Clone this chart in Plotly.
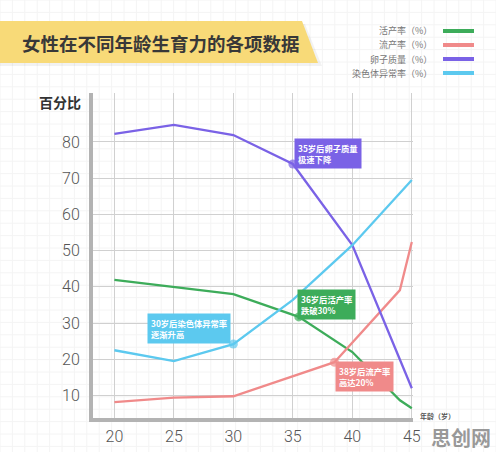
import plotly.graph_objects as go

# ---------------- data ----------------
ages_live = [20, 25, 30, 35.5, 40, 44, 45]
live_birth = [41.9, 39.9, 38.0, 31.7, 22.0, 8.7, 6.5]

ages_misc = [20, 25, 30, 38.5, 44, 45]
miscarriage = [8.2, 9.4, 9.8, 19.2, 39.1, 52.4]

ages_egg = [20, 25, 30, 35, 40, 45]
egg_quality = [82.2, 84.7, 81.9, 73.9, 51.5, 12.0]

ages_chrom = [20, 25, 30, 35, 40, 45]
chrom_abnormal = [22.5, 19.5, 24.2, 36.4, 51.5, 69.5]

series_names = ["活产率（%）", "流产率（%）", "卵子质量（%）", "染色体异常率（%）"]
highlight_ages = [35.5, 38.5, 35, 30]
callout_texts = ["<b>36岁后活产率<br>跌破30%</b>", "<b>38岁后流产率<br>高达20%</b>",
                 "<b>35岁后卵子质量<br>极速下降</b>", "<b>30岁后染色体异常率<br>逐渐升高</b>"]

x_ticks = [20, 25, 30, 35, 40, 45]
y_ticks = [10, 20, 30, 40, 50, 60, 70, 80]

title_text = "女性在不同年龄生育力的各项数据"
y_title = "百分比"
x_title = "年龄（岁）"
watermark = "思创网"

# ---------------- styles ----------------
colors = ["#3dac5a", "#f08a8a", "#7a62e6", "#5cc9ef"]
CJK = "Noto Sans CJK SC"
W_PX, H_PX = 496, 452
L, R, T, B = 93, 413, 93, 418
PW, PH = R - L, B - T


def px(x):
    return (x - L) / PW


def py(y):
    return (B - y) / PH


xs_all = [ages_live, ages_misc, ages_egg, ages_chrom]
ys_all = [live_birth, miscarriage, egg_quality, chrom_abnormal]

fig = go.Figure()
for name, xs, ys, col, ha in zip(series_names, xs_all, ys_all, colors, highlight_ages):
    sizes = [9 if a == ha else 0 for a in xs]
    fig.add_trace(go.Scatter(
        x=xs, y=ys, name=name, mode="lines+markers",
        line=dict(color=col, width=2.3),
        marker=dict(size=sizes, color=col, line=dict(width=0)),
        showlegend=False,
    ))

# callout boxes anchored at the highlighted points
callout_pos = [
    dict(xanchor="left", yanchor="bottom", xshift=-2, yshift=-3),   # live birth
    dict(xanchor="left", yanchor="top", xshift=1, yshift=1),        # miscarriage
    dict(xanchor="left", yanchor="bottom", xshift=1, yshift=-5),    # egg
    dict(xanchor="right", yanchor="bottom", xshift=-2, yshift=0),   # chromosome
]
annotations = []
for xs, ys, col, ha, txt, pos in zip(xs_all, ys_all, colors, highlight_ages, callout_texts, callout_pos):
    i = xs.index(ha)
    annotations.append(dict(
        x=xs[i], y=ys[i], xref="x", yref="y", text=txt, showarrow=False,
        align="left", bgcolor=col, borderpad=3,
        font=dict(family=CJK, size=8.3, color="white"), **pos))

# legend (text + swatch on the right)
leg_y = [31, 45, 59, 73]
shapes = []

# faint page grid
step = 12.4
gx = 0.0
while gx <= W_PX:
    shapes.append(dict(type="line", xref="paper", yref="paper", x0=px(gx), x1=px(gx),
                       y0=py(0), y1=py(H_PX), line=dict(color="#f4f4f4", width=1), layer="below"))
    gx += step
gy = 0.0
while gy <= H_PX:
    shapes.append(dict(type="line", xref="paper", yref="paper", x0=px(0), x1=px(W_PX),
                       y0=py(gy), y1=py(gy), line=dict(color="#f4f4f4", width=1), layer="below"))
    gy += step

for name, col, ly in zip(series_names, colors, leg_y):
    annotations.append(dict(x=px(434), y=py(ly), xref="paper", yref="paper", text=name,
                            showarrow=False, xanchor="right", yanchor="middle",
                            font=dict(family=CJK, size=9, color="#777")))
    shapes.append(dict(type="line", xref="paper", yref="paper", x0=px(443), x1=px(474),
                       y0=py(ly), y1=py(ly), line=dict(color=col, width=4)))

# title banner
shapes.append(dict(type="path", xref="paper", yref="paper",
                   path=f"M {px(0)},{py(24)} L {px(305)},{py(24)} L {px(322)},{py(66)} L {px(0)},{py(66)} Z",
                   fillcolor="rgba(0,0,0,0.05)", line=dict(width=0)))
shapes.append(dict(type="path", xref="paper", yref="paper",
                   path=f"M {px(0)},{py(21)} L {px(302)},{py(21)} L {px(318)},{py(63)} L {px(0)},{py(63)} Z",
                   fillcolor="#f8da78", line=dict(width=0)))

annotations.append(dict(x=px(20), y=py(43), xref="paper", yref="paper", text=f"<b>{title_text}</b>",
                        showarrow=False, xanchor="left", yanchor="middle",
                        font=dict(family=CJK, size=18.5, color="#383838")))
annotations.append(dict(x=px(83), y=py(102), xref="paper", yref="paper", text=f"<b>{y_title}</b>",
                        showarrow=False, xanchor="right", yanchor="middle",
                        font=dict(family=CJK, size=14, color="#333")))
annotations.append(dict(x=px(419), y=py(416), xref="paper", yref="paper", text=f"<b>{x_title}</b>",
                        showarrow=False, xanchor="left", yanchor="middle", borderpad=0,
                        font=dict(family=CJK, size=7, color="#555")))
annotations.append(dict(x=px(461), y=py(437), xref="paper", yref="paper", text=f"<b>{watermark}</b>",
                        showarrow=False, xanchor="center", yanchor="middle", borderpad=0,
                        font=dict(family=CJK, size=20, color="rgba(120,120,120,0.75)")))

fig.update_layout(
    width=W_PX, height=H_PX,
    margin=dict(l=L, r=W_PX - R, t=T, b=H_PX - B, autoexpand=False),
    paper_bgcolor="white", plot_bgcolor="rgba(0,0,0,0)",
    shapes=shapes, annotations=annotations,
    showlegend=False,
    font=dict(family="Roboto", color="#555"),
)
fig.update_xaxes(range=[18.2, 45.1], tickvals=x_ticks, showgrid=True, gridcolor="#d0d0d0", gridwidth=1.3,
                 showline=True, linecolor="#b3b3b3", linewidth=4, zeroline=False, ticks="", automargin=False,
                 tickfont=dict(family="Roboto", size=16, color="#555", weight=300), ticklabelstandoff=1)
fig.update_yaxes(range=[3.8, 93.5], tickvals=y_ticks, showgrid=True, gridcolor="#d0d0d0", gridwidth=1.3,
                 showline=True, linecolor="#b3b3b3", linewidth=4, zeroline=False, ticks="", automargin=False,
                 tickfont=dict(family="Roboto", size=16, color="#555", weight=300), ticklabelstandoff=6)

fig.write_html("out.html")
